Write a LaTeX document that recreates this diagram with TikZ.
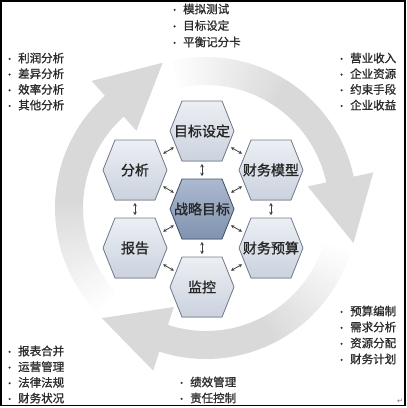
\documentclass[tikz,border=0pt]{standalone}
\usepackage{fontspec}
\setmainfont{Noto Sans CJK SC}[FakeBold=1.2]
\newfontfamily\symbolfont{DejaVu Sans}
\usetikzlibrary{positioning,calc,arrows.meta}

\definecolor{ringgray}{RGB}{217,217,217}
\definecolor{hexline}{RGB}{115,125,140}
\definecolor{hextop}{RGB}{236,239,244}
\definecolor{hexbot}{RGB}{203,210,222}
\definecolor{coretop}{RGB}{172,186,208}
\definecolor{corebot}{RGB}{128,146,175}
\definecolor{coreline}{RGB}{75,88,110}
\definecolor{textgray}{RGB}{45,45,45}

\tikzset{
  hexcell/.style={draw=hexline,line width=0.8pt,top color=hextop,bottom color=hexbot},
  corecell/.style={draw=coreline,line width=0.9pt,top color=coretop,bottom color=corebot},
  hexlabel/.style={inner sep=0pt,font=\fontsize{14}{14}\selectfont,text=black!85},
  item/.style={anchor=west,inner sep=0pt,font=\fontsize{11.5}{11.5}\selectfont,text=textgray},
  link/.style={{Stealth[length=3.5pt,width=3.5pt]}-{Stealth[length=3.5pt,width=3.5pt]},line width=0.8pt,draw=black!75},
}

% hexagon cell: name, centre, label, style
\newcommand\honeycell[4]{%
  \filldraw[#4] (#2) ++(-32,0) -- ++(12,-30) -- ++(40,0) -- ++(12,30)
    -- ++(-12,30) -- ++(-40,0) -- cycle;
  \node[hexlabel] (#1) at (#2) {#3};}
\newcommand\bulleted[1]{\llap{\scalebox{0.8}{\textbullet}\hspace{4pt}}#1}

\begin{document}
\begin{tikzpicture}[x=1pt,y=-1pt]
\useasboundingbox (0,0) rectangle (407,408);

% circular arrows behind
\begin{scope}[shift={(206,208)}]
  \foreach \h in {348,108,228}{
    \foreach \k in {0,...,46}{
      \pgfmathsetmacro\angl{\h-93+2*\k}
      \pgfmathsetmacro\tone{min(15,15*\k/24)}
      \fill[black!\tone] (\angl:123) -- (\angl:151) -- (\angl+2.4:151) -- (\angl+2.4:123) -- cycle;
    }
  }
  \foreach \h in {348,108,228}
    \fill[ringgray] (\h:104) -- (\h:171) -- (\h+25.4:151.6) -- cycle;
\end{scope}

% cells
\honeycell{goal}{202,131}{目标设定}{hexcell}
\honeycell{model}{271,170}{财务模型}{hexcell}
\honeycell{budget}{271,248}{财务预算}{hexcell}
\honeycell{monitor}{202,287}{监控}{hexcell}
\honeycell{report}{135,248}{报告}{hexcell}
\honeycell{analysis}{135,170}{分析}{hexcell}
\honeycell{core}{202,209}{战略目标}{corecell}

\foreach \n in {goal,model,budget,monitor,report,analysis}
  \draw[link] ($(core)!0.42!(\n)$) -- ($(core)!0.58!(\n)$);
\foreach \m/\n in {goal/model,model/budget,budget/monitor,monitor/report,report/analysis,analysis/goal}
  \draw[link] ($(\m)!0.42!(\n)$) -- ($(\m)!0.58!(\n)$);

% bullet lists
\foreach \t [count=\i from 0] in {模拟测试,目标设定,平衡记分卡}
  \node[item] (plan\i) at (183,9+16.5*\i) {\bulleted{\t}};
\foreach \t [count=\i from 0] in {利润分析,差异分析,效率分析,其他分析}
  \node[item] (diag\i) at (18,58+15.7*\i) {\bulleted{\t}};
\foreach \t [count=\i from 0] in {营业收入,企业资源,约束手段,企业收益}
  \node[item] (res\i) at (350,58+15.7*\i) {\bulleted{\t}};
\foreach \t [count=\i from 0] in {预算编制,需求分析,资源分配,财务计划}
  \node[item] (alloc\i) at (350,311+16*\i) {\bulleted{\t}};
\foreach \t [count=\i from 0] in {报表合并,运营管理,法律法规,财务状况}
  \node[item] (rep\i) at (18,351+15.7*\i) {\bulleted{\t}};
\foreach \t [count=\i from 0] in {绩效管理,责任控制}
  \node[item] (perf\i) at (190,382+16*\i) {\bulleted{\t}};

\node[inner sep=0pt,font=\symbolfont\fontsize{7}{7}\selectfont,text=black!55] (mark) at (400,401) {↵};

\draw[line width=1.5pt] (0.75,0.75) rectangle (405,405.5);
\end{tikzpicture}
\end{document}
